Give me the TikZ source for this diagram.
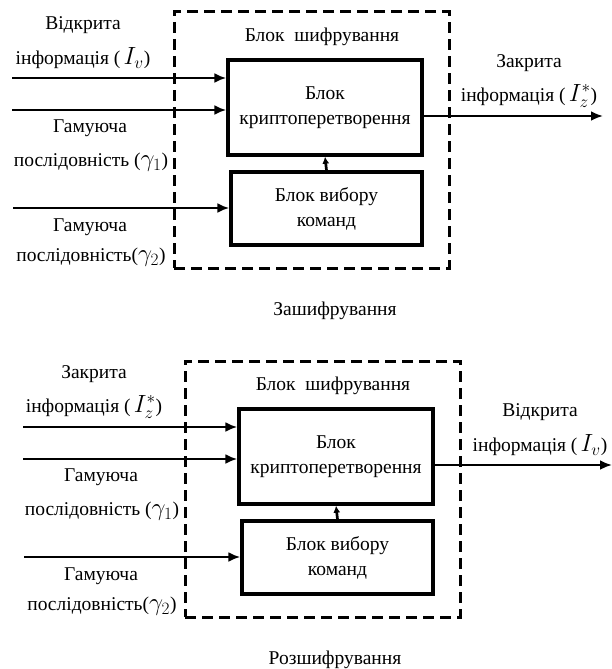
\documentclass[tikz,border=0pt]{standalone}
\usepackage{fontspec}
\setmainfont{Liberation Serif}
\usetikzlibrary{arrows.meta, positioning}
\newcommand{\mvar}[1]{{\fontsize{24}{22}\selectfont$#1$}}

\begin{document}
\begin{tikzpicture}[
    x=1pt, y=-1pt,
    block/.style={draw, line width=3.4pt, align=center, font=\fontsize{19.5}{25}\selectfont},
    frame/.style={draw, line width=3pt, dash pattern=on 11pt off 6pt},
    link/.style={line width=2.7pt, -{Latex[length=12pt, width=10pt]}},
    uplink/.style={line width=2.7pt, -{Latex[length=7pt, width=7pt]}},
    lbl/.style={inner sep=0pt, font=\fontsize{19.5}{22}\selectfont},
]
    \useasboundingbox (0,0) rectangle (612,669);

    % encryption
    \begin{scope}
        \node[frame, minimum width=275pt, minimum height=256pt] (frame1) at (311.5,140) {};
        \node[block, minimum width=194pt, minimum height=95pt] (crypt1) at (325,107.5) {Блок\\криптоперетворення};
        \node[block, minimum width=191pt, minimum height=73pt] (choice1) at (326.5,208.5) {Блок вибору\\команд};
        \node[lbl] (title1) at (322,37) {Блок\ \ шифрування};

        \coordinate (inA1) at (12,78);
        \coordinate (inB1) at (12,110);
        \coordinate (inC1) at (13,208);
        \coordinate (out1) at (603,116);
        \draw[link] (inA1) -- (inA1 -| crypt1.west);
        \draw[link] (inB1) -- (inB1 -| crypt1.west);
        \draw[link] (inC1) -- (inC1 -| choice1.west);
        \draw[link] (out1 -| crypt1.east) -- (out1);
        \draw[uplink] (choice1.north) -- (crypt1.south);

        \node[lbl] (openA) at (83,25) {Відкрита};
        \node[lbl] (openB) at (83,58) {інформація (\,\mvar{I_v})};
        \node[lbl] (gamA1) at (90,128) {Гамуюча};
        \node[lbl] (gamB1) at (91,162) {послідовність (\mvar{\gamma_1})};
        \node[lbl] (gamC1) at (90,227) {Гамуюча};
        \node[lbl] (gamD1) at (91,257) {послідовність(\mvar{\gamma_2})};
        \node[lbl] (closedA) at (529,63) {Закрита};
        \node[lbl] (closedB) at (529,96) {інформація (\,\mvar{I_z^*})};
        \node[lbl] (cap1) at (335,311) {Зашифрування};
    \end{scope}

    % decryption
    \begin{scope}[shift={(11,349)}]
        \node[frame, minimum width=275pt, minimum height=256pt] (frame2) at (311.5,140) {};
        \node[block, minimum width=194pt, minimum height=95pt] (crypt2) at (325,107.5) {Блок\\криптоперетворення};
        \node[block, minimum width=191pt, minimum height=73pt] (choice2) at (326.5,208.5) {Блок вибору\\команд};
        \node[lbl] (title2) at (322,37) {Блок\ \ шифрування};

        \coordinate (inA2) at (12,78);
        \coordinate (inB2) at (12,110);
        \coordinate (inC2) at (13,208);
        \coordinate (out2) at (601,116);
        \draw[link] (inA2) -- (inA2 -| crypt2.west);
        \draw[link] (inB2) -- (inB2 -| crypt2.west);
        \draw[link] (inC2) -- (inC2 -| choice2.west);
        \draw[link] (out2 -| crypt2.east) -- (out2);
        \draw[uplink] (choice2.north) -- (crypt2.south);

        \node[lbl] (closedC) at (83,25) {Закрита};
        \node[lbl] (closedD) at (83,58) {інформація (\,\mvar{I_z^*})};
        \node[lbl] (gamA2) at (90,128) {Гамуюча};
        \node[lbl] (gamB2) at (91,162) {послідовність (\mvar{\gamma_1})};
        \node[lbl] (gamC2) at (90,227) {Гамуюча};
        \node[lbl] (gamD2) at (91,257) {послідовність(\mvar{\gamma_2})};
        \node[lbl] (openC) at (529,63) {Відкрита};
        \node[lbl] (openD) at (529,96) {інформація (\,\mvar{I_v})};
        \node[lbl] (cap2) at (324,311) {Розшифрування};
    \end{scope}
\end{tikzpicture}
\end{document}
